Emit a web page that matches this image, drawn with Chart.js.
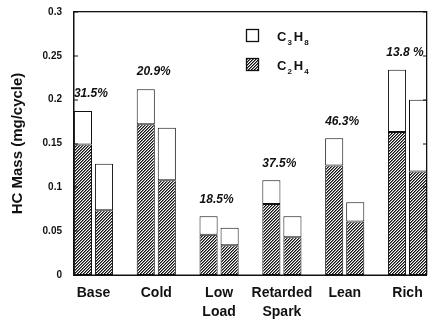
<!DOCTYPE html>
<html>
<head>
<meta charset="utf-8">
<script src="https://cdn.jsdelivr.net/npm/chart.js@4"></script>
<style>
  html, body { margin: 0; padding: 0; background: #fff; }
  #wrap { width: 429px; height: 323px; }
</style>
</head>
<body>
<div id="wrap"><canvas id="hcChart" width="429" height="323"></canvas></div>
<script>
// data
const groups = [['Base'], ['Cold'], ['Low', 'Load'], ['Retarded', 'Spark'], ['Lean'], ['Rich']];
const c2h4A = [0.149, 0.172, 0.046, 0.081, 0.125, 0.163];
const c3h8A = [0.038, 0.040, 0.021, 0.027, 0.031, 0.071];
const c2h4B = [0.074, 0.108, 0.034, 0.043, 0.061, 0.118];
const c3h8B = [0.053, 0.060, 0.020, 0.024, 0.022, 0.082];
const reduction = ['31.5%', '20.9%', '18.5%', '37.5%', '46.3%', '13.8 %'];
const yTicks = [0, 0.05, 0.1, 0.15, 0.2, 0.25, 0.3];

const FONT = '"Liberation Sans", Arial, sans-serif';
const INK = '#111';

// diagonal hatch for C2H4, drawn pixel by pixel so it stays crisp
function makeHatch() {
    const n = 3;
    const c = document.createElement('canvas');
    c.width = n; c.height = n;
    const g = c.getContext('2d');
    g.fillStyle = '#fff';
    g.fillRect(0, 0, n, n);
    for (let i = 0; i < n; i++) {
        g.fillStyle = INK;
        g.fillRect(i, n - 1 - i, 1, 1);
        g.fillStyle = '#777';
        g.fillRect(i, (2 * n - i) % n, 1, 1);
    }
    return g.createPattern(c, 'repeat');
}
const hatch = makeHatch();

const pts = arr => arr.map((v, i) => ({ x: i + 1, y: v }));

function barSet(label, values, stack, fill) {
    return {
        label: label,
        data: pts(values),
        stack: stack,
        backgroundColor: fill,
        borderColor: INK,
        borderWidth: 1,
        borderSkipped: false,
        categoryPercentage: 0.67,
        barPercentage: 0.86
    };
}

const framePlugin = {
    id: 'frame',
    afterDraw(chart) {
        const c = chart.ctx;
        const a = chart.chartArea;
        const ys = chart.scales.y;
        c.save();
        c.setLineDash([]);
        c.fillStyle = INK;
        // frame around the plot
        c.fillRect(a.left - 1, a.top - 1, a.right - a.left + 1, 1.3);
        c.fillRect(a.left - 1, a.bottom - 0.5, a.right - a.left + 1, 1.5);
        c.fillRect(a.left - 1, a.top - 1, 1.5, a.bottom - a.top + 1);
        c.fillRect(a.right - 1, a.top - 1, 1.3, a.bottom - a.top + 1);
        // inward tick marks on both sides
        yTicks.forEach(t => {
            const y = Math.round(ys.getPixelForValue(t));
            c.fillRect(a.left, y - 0.5, 4, 1);
            c.fillRect(a.right - 4, y - 0.5, 4, 1);
        });

        // percentage labels over the first bar of each pair
        const meta = chart.getDatasetMeta(1);
        c.font = 'italic bold 12px ' + FONT;
        c.textAlign = 'center';
        c.textBaseline = 'middle';
        meta.data.forEach((el, i) => {
            c.fillText(reduction[i], el.x + 8, el.y - 17);
        });

        // legend with subscripts
        const lx = a.left + 172, ly = a.top + 17;
        const items = [
            { fill: '#fff', parts: ['C', '3', 'H', '8'] },
            { fill: hatch, parts: ['C', '2', 'H', '4'] }
        ];
        items.forEach((it, k) => {
            const by = ly + k * 29;
            c.fillStyle = it.fill;
            c.fillRect(lx, by, 13, 13);
            c.strokeStyle = INK;
            c.lineWidth = 1.3;
            c.strokeRect(lx + 0.5, by + 0.5, 12, 12);
            let tx = lx + 31;
            c.fillStyle = INK;
            c.textAlign = 'left';
            c.textBaseline = 'alphabetic';
            it.parts.forEach((p, j) => {
                const sub = j % 2 === 1;
                c.font = (sub ? 'bold 8px ' : 'bold 13px ') + FONT;
                c.fillText(p, tx, by + (sub ? 16 : 12));
                tx += c.measureText(p).width + (sub ? 2 : 1);
            });
        });
        c.restore();
    }
};

const ctx = document.getElementById('hcChart').getContext('2d');
const hcChart = new Chart(ctx, {
    type: 'bar',
    data: {
        datasets: [
            barSet('C2H4', c2h4A, 'a', hatch),
            barSet('C3H8', c3h8A, 'a', '#fff'),
            barSet('C2H4', c2h4B, 'b', hatch),
            barSet('C3H8', c3h8B, 'b', '#fff')
        ]
    },
    options: {
        responsive: false,
        animation: false,
        layout: { padding: { top: 12, right: 2, left: 0, bottom: 0 } },
        plugins: {
            legend: { display: false },
            tooltip: { enabled: false }
        },
        scales: {
            x: {
                type: 'linear',
                stacked: true,
                offset: false,
                min: 0.69,
                max: 6.31,
                afterBuildTicks: s => { s.ticks = groups.map((g, i) => ({ value: i + 1 })); },
                afterFit: s => { s.height = 48; s.paddingLeft = 0; s.paddingRight = 0; },
                grid: { display: false, drawTicks: false },
                border: { display: false },
                ticks: {
                    color: INK,
                    font: { family: FONT, size: 14, weight: 'bold', lineHeight: 1.35 },
                    padding: 9,
                    maxRotation: 0,
                    autoSkip: false,
                    callback: v => groups[Math.round(v) - 1]
                }
            },
            y: {
                stacked: true,
                min: 0,
                max: 0.3,
                afterBuildTicks: s => { s.ticks = yTicks.map(v => ({ value: v })); },
                afterFit: s => { s.width = 74; s.paddingTop = 0; s.paddingBottom = 0; },
                grid: { display: false, drawTicks: false },
                border: { display: false },
                ticks: {
                    color: INK,
                    font: { family: FONT, size: 10, weight: 'bold' },
                    padding: 12,
                    callback: v => String(v)
                },
                title: {
                    display: true,
                    text: 'HC Mass (mg/cycle)',
                    color: INK,
                    font: { family: FONT, size: 15, weight: 'bold' },
                    padding: { top: 9, bottom: 0 }
                }
            }
        }
    },
    plugins: [framePlugin]
});
</script>
</body>
</html>
